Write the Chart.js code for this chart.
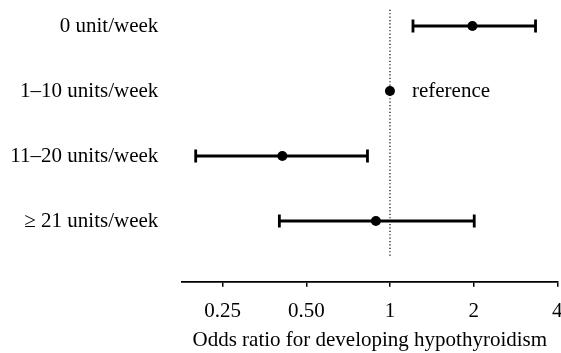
<!DOCTYPE html>
<html>
<head>
<meta charset="utf-8">
<script src="https://cdn.jsdelivr.net/npm/chart.js@4.4.1/dist/chart.umd.min.js"></script>
<style>
  html, body { margin: 0; padding: 0; background: #fff; overflow: hidden; }
  #wrap { width: 561px; height: 353px; }
</style>
</head>
<body>
<div id="wrap"><canvas id="c" width="561" height="353"></canvas></div>
<script>
const categories = ['0 unit/week', '1\u201310 units/week', '11\u201320 units/week', '\u2265 21 units/week'];
const oddsRatio = [1.98, 1, 0.41, 0.89];
const ciLower = [1.21, null, 0.20, 0.40];
const ciUpper = [3.34, null, 0.83, 2.01];
const xTicks = [0.25, 0.5, 1, 2, 4];
const xTickLabels = ['0.25', '0.50', '1', '2', '4'];
const referenceValue = 1;
const referenceLabel = 'reference';
const axisTitle = 'Odds ratio for developing hypothyroidism';

const FONT = { family: '"Liberation Serif", "Times New Roman", serif', size: 21 };

const datasets = [];
// odds ratio points (drawn on top)
datasets.push({
  type: 'scatter',
  data: oddsRatio.map((v, i) => ({ x: v, y: i })),
  pointRadius: 5,
  pointBackgroundColor: '#000',
  pointBorderColor: '#000',
  pointBorderWidth: 0,
  showLine: false
});
// confidence intervals
categories.forEach((c, i) => {
  if (ciLower[i] == null) return;
  datasets.push({
    type: 'line',
    data: [{ x: ciLower[i], y: i }, { x: ciUpper[i], y: i }],
    borderColor: '#000',
    borderWidth: 2.8,
    pointStyle: 'line',
    pointRotation: 90,
    pointRadius: 6.5,
    pointBorderWidth: 2.8,
    pointBorderColor: '#000',
    fill: false
  });
});
// dotted reference line (drawn first / underneath)
datasets.push({
  type: 'line',
  data: [{ x: referenceValue, y: -0.25 }, { x: referenceValue, y: 3.55 }],
  borderColor: '#000',
  borderWidth: 1.2,
  borderDash: [1.2, 2.2],
  pointRadius: 0,
  fill: false
});

const refTextPlugin = {
  id: 'refText',
  afterDatasetsDraw(chart) {
    const { ctx, scales } = chart;
    ctx.save();
    ctx.font = FONT.size + 'px ' + FONT.family;
    ctx.fillStyle = '#000';
    ctx.textAlign = 'left';
    ctx.textBaseline = 'middle';
    ctx.fillText(referenceLabel, scales.x.getPixelForValue(1.2), scales.y.getPixelForValue(1));
    ctx.restore();
  }
};

new Chart(document.getElementById('c'), {
  data: { datasets },
  plugins: [refTextPlugin],
  options: {
    responsive: false,
    devicePixelRatio: 1,
    animation: false,
    layout: { autoPadding: false, padding: { left: 10, top: 0, right: 3.7, bottom: 0 } },
    plugins: { legend: { display: false }, tooltip: { enabled: false } },
    scales: {
      x: {
        type: 'logarithmic',
        min: 0.179,
        max: 4,
        afterBuildTicks: (axis) => { axis.ticks = xTicks.map(v => ({ value: v })); },
        afterFit: (axis) => { axis.height = 71.3; axis.paddingLeft = 0; axis.paddingRight = 0; },
        ticks: {
          callback: (v, i) => xTickLabels[i],
          font: FONT,
          color: '#000',
          maxRotation: 0,
          autoSkip: false,
          padding: 12
        },
        grid: { drawOnChartArea: false, drawTicks: true, tickLength: 5, color: '#000', lineWidth: 1.5 },
        border: { display: true, color: '#000', width: 1.7 },
        title: { display: true, text: axisTitle, font: FONT, color: '#000', padding: { top: 0, bottom: 0 } }
      },
      y: {
        type: 'linear',
        reverse: true,
        min: -0.4,
        max: 3.934,
        afterBuildTicks: (axis) => { axis.ticks = categories.map((c, i) => ({ value: i })); },
        afterFit: (axis) => { axis.width = 172.3; axis.paddingTop = 0; axis.paddingBottom = 0; },
        ticks: {
          callback: (v) => categories[v],
          font: FONT,
          color: '#000',
          padding: 24,
          autoSkip: false
        },
        grid: { display: false, drawTicks: false },
        border: { display: false }
      }
    }
  }
});
</script>
</body>
</html>
